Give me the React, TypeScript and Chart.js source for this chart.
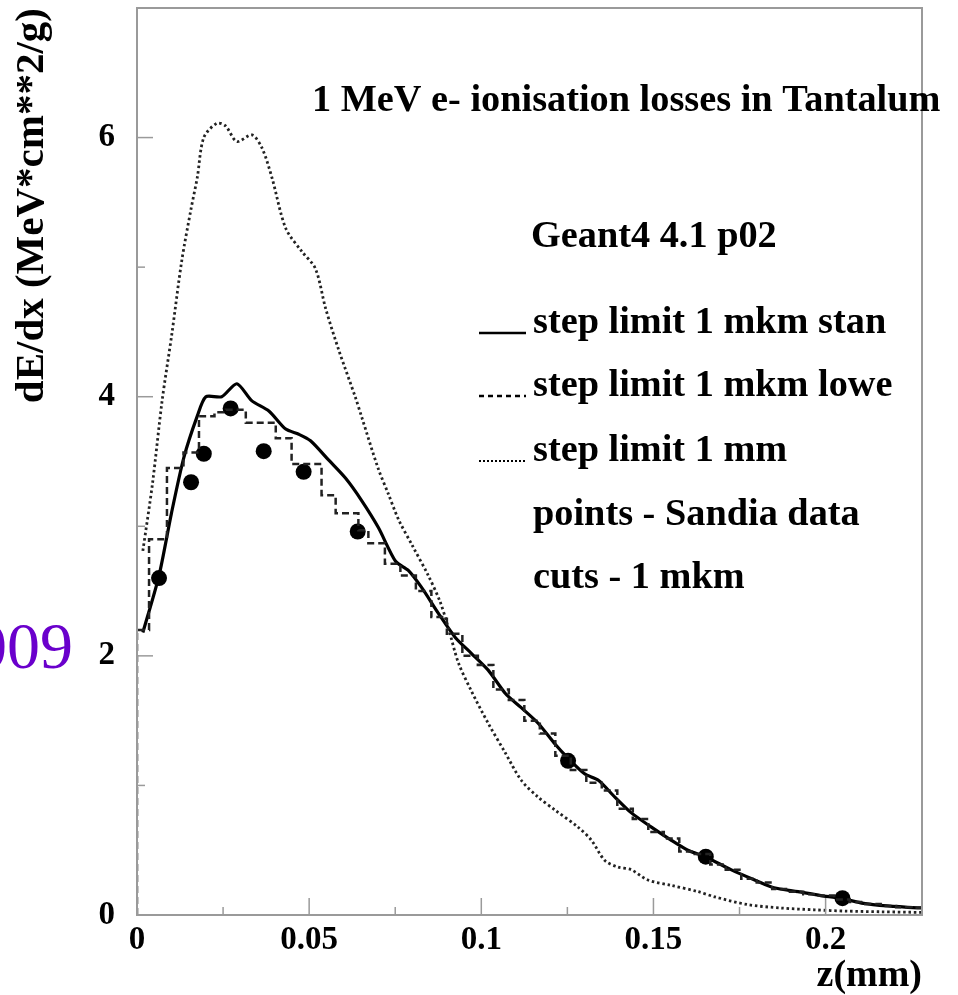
import React, { useEffect, useRef } from 'react';
import { Chart, registerables } from 'chart.js';

Chart.register(...registerables);

// ---- data ----
const stanZ = [0.0017, 0.0064, 0.01, 0.0136, 0.0175, 0.02, 0.0246, 0.029, 0.0333, 0.0383, 0.0432, 0.047, 0.0504, 0.0557, 0.0606, 0.0652, 0.0701, 0.0751, 0.0788, 0.0826, 0.0875, 0.0925, 0.0971, 0.102, 0.107, 0.1116, 0.1165, 0.1214, 0.1252, 0.13, 0.134, 0.1388, 0.1435, 0.1493, 0.155, 0.16, 0.165, 0.1725, 0.1794, 0.185, 0.192, 0.1986, 0.2043, 0.211, 0.218, 0.2267, 0.228];
const stanV = [2.18, 2.62, 3.1, 3.53, 3.85, 4.0, 4.0, 4.1, 3.97, 3.89, 3.75, 3.71, 3.66, 3.51, 3.37, 3.2, 2.99, 2.73, 2.66, 2.53, 2.33, 2.14, 2.02, 1.89, 1.71, 1.6, 1.48, 1.32, 1.21, 1.09, 1.04, 0.91, 0.79, 0.68, 0.58, 0.5, 0.45, 0.35, 0.27, 0.21, 0.18, 0.15, 0.13, 0.09, 0.07, 0.055, 0.055];

const loweZ = [0, 0, 0.0035, 0.0087, 0.0135, 0.018, 0.0225, 0.0258, 0.0316, 0.0403, 0.0449, 0.0536, 0.0577, 0.0643, 0.0672, 0.072, 0.0765, 0.081, 0.0855, 0.09, 0.0945, 0.099, 0.1035, 0.108, 0.1125, 0.117, 0.1215, 0.126, 0.1305, 0.135, 0.1395, 0.144, 0.1485, 0.153, 0.1575, 0.162, 0.1665, 0.171, 0.1755, 0.18, 0.1845, 0.189, 0.1935, 0.198, 0.2025, 0.207, 0.2115, 0.216, 0.2205, 0.225, 0.228];
const loweV = [0, 2.2, 2.9, 3.45, 3.57, 3.85, 3.88, 3.9, 3.8, 3.68, 3.48, 3.24, 3.1, 2.97, 2.87, 2.71, 2.62, 2.5, 2.3, 2.17, 2.0, 1.93, 1.74, 1.66, 1.5, 1.4, 1.23, 1.12, 1.02, 0.96, 0.82, 0.74, 0.64, 0.59, 0.49, 0.47, 0.39, 0.35, 0.28, 0.25, 0.2, 0.18, 0.16, 0.15, 0.12, 0.1, 0.085, 0.07, 0.06, 0.055, 0.055];

const mmZ = [0.0017, 0.0045, 0.0073, 0.0101, 0.013, 0.0157, 0.0175, 0.0194, 0.0232, 0.0257, 0.029, 0.0334, 0.0363, 0.0392, 0.0432, 0.0479, 0.0518, 0.0548, 0.0586, 0.0635, 0.0653, 0.07, 0.073, 0.076, 0.08, 0.0846, 0.088, 0.0904, 0.0933, 0.0971, 0.102, 0.107, 0.1116, 0.1165, 0.1214, 0.128, 0.1319, 0.1359, 0.1397, 0.1435, 0.1484, 0.155, 0.163, 0.1678, 0.1774, 0.187, 0.1968, 0.206, 0.216, 0.228];
const mmV = [2.81, 3.33, 3.97, 4.48, 5.05, 5.45, 5.69, 6.0, 6.11, 6.09, 5.97, 6.02, 5.92, 5.69, 5.3, 5.12, 4.99, 4.68, 4.36, 3.99, 3.84, 3.45, 3.25, 3.05, 2.85, 2.62, 2.42, 2.22, 1.95, 1.73, 1.48, 1.25, 1.04, 0.91, 0.81, 0.68, 0.58, 0.42, 0.37, 0.35, 0.27, 0.23, 0.18, 0.14, 0.08, 0.054, 0.04, 0.03, 0.025, 0.02];

const sandiaZ = [0.0064, 0.0157, 0.0194, 0.0272, 0.0368, 0.0484, 0.0641, 0.1252, 0.1652, 0.2049];
const sandiaV = [2.6, 3.34, 3.56, 3.91, 3.58, 3.42, 2.96, 1.19, 0.45, 0.13];

const xMajorTicks = [0, 0.05, 0.1, 0.15, 0.2];
const xMinorTicks = [0.025, 0.075, 0.125, 0.175];
const yMajorTicks = [0, 2, 4, 6];
const yMinorTicks = [1, 3, 5];

const titleText = '1 MeV e- ionisation losses in Tantalum';
const versionText = 'Geant4 4.1 p02';
const legendTexts = ['step limit 1 mkm stan', 'step limit 1 mkm lowe', 'step limit 1 mm', 'points - Sandia data', 'cuts - 1 mkm'];
const yTitle = 'dE/dx (MeV*cm**2/g)';
const xTitle = 'z(mm)';
const yearText = '2009';

const SERIF = '"Liberation Serif", "Times New Roman", serif';

const toPts = (xs: number[], ys: number[]) => xs.map((x, i) => ({ x, y: ys[i] }));

const decorPlugin = {
  id: 'decor',
  afterDatasetsDraw(chart: any) {
    const { ctx, chartArea: a, scales } = chart;
    const xs = scales.x, ys = scales.y;
    ctx.save();
    ctx.strokeStyle = '#9a9a9a';
    ctx.lineWidth = 2;
    ctx.setLineDash([]);
    ctx.strokeRect(a.left, a.top, a.right - a.left, a.bottom - a.top);
    ctx.lineWidth = 1.5;
    const tick = (vals: number[], len: number, horiz: boolean) => {
      vals.forEach((v) => {
        ctx.beginPath();
        if (horiz) {
          const p = xs.getPixelForValue(v);
          ctx.moveTo(p, a.bottom);
          ctx.lineTo(p, a.bottom - len);
        } else {
          const p = ys.getPixelForValue(v);
          ctx.moveTo(a.left, p);
          ctx.lineTo(a.left + len, p);
        }
        ctx.stroke();
      });
    };
    tick(xMajorTicks, 17, true);
    tick(xMinorTicks, 8, true);
    tick(yMajorTicks, 16, false);
    tick(yMinorTicks, 8, false);
    ctx.restore();
  },
  afterDraw(chart: any) {
    const { ctx } = chart;
    ctx.save();
    ctx.fillStyle = '#000';
    ctx.textBaseline = 'alphabetic';
    ctx.textAlign = 'left';
    ctx.font = `bold 38.3px ${SERIF}`;
    ctx.fillText(titleText, 312, 111);
    ctx.fillText(versionText, 531, 247);
    const rows = [333, 396, 461, 525, 588];
    legendTexts.forEach((t, i) => ctx.fillText(t, 533, rows[i]));
    // legend samples
    ctx.strokeStyle = '#000';
    ctx.lineWidth = 2.5;
    const sample = (y: number, dash: number[]) => {
      ctx.setLineDash(dash);
      ctx.beginPath();
      ctx.moveTo(479, y);
      ctx.lineTo(526, y);
      ctx.stroke();
    };
    sample(rows[0], []);
    sample(rows[1], [5, 4]);
    ctx.lineWidth = 2;
    sample(rows[2], [2, 2]);
    ctx.setLineDash([]);
    // purple year
    ctx.fillStyle = '#6a00cc';
    ctx.font = `66px ${SERIF}`;
    ctx.textAlign = 'right';
    ctx.fillText(yearText, 73, 668);
    ctx.restore();
  },
};

export default function App() {
  const ref = useRef<HTMLCanvasElement | null>(null);
  useEffect(() => {
    if (!ref.current) return;
    const chart = new Chart(ref.current, {
      type: 'line',
      data: {
        datasets: [
          {
            label: 'step limit 1 mm',
            data: toPts(mmZ, mmV),
            borderColor: '#222',
            borderWidth: 2.8,
            borderDash: [2.5, 2.8],
            pointRadius: 0,
            tension: 0.3,
            fill: false,
          },
          {
            label: 'step limit 1 mkm lowe',
            data: toPts(loweZ, loweV),
            borderColor: '#222',
            borderWidth: 2.5,
            borderDash: [7, 4],
            stepped: 'before',
            pointRadius: 0,
            fill: false,
          },
          {
            label: 'step limit 1 mkm stan',
            data: toPts(stanZ, stanV),
            borderColor: '#000',
            borderWidth: 3.2,
            pointRadius: 0,
            tension: 0.25,
            fill: false,
          },
          {
            label: 'points - Sandia data',
            data: toPts(sandiaZ, sandiaV),
            showLine: false,
            pointRadius: 8,
            pointBackgroundColor: '#000',
            pointBorderColor: '#000',
            pointBorderWidth: 0,
          },
        ],
      },
      options: {
        animation: false,
        responsive: false,
        events: [],
        layout: { padding: { left: 0, top: 6, right: 36, bottom: 0 } },
        plugins: { legend: { display: false }, tooltip: { enabled: false } },
        scales: {
          x: {
            type: 'linear',
            min: 0,
            max: 0.228,
            afterFit: (s: any) => {
              s.height = 80;
              s.paddingLeft = 0;
              s.paddingRight = 0;
            },
            grid: { display: false, drawTicks: false },
            border: { display: false },
            ticks: {
              stepSize: 0.05,
              includeBounds: false,
              autoSkip: false,
              maxRotation: 0,
              padding: 6,
              color: '#000',
              font: { family: SERIF, size: 33, weight: 'bold' },
              callback: (v: any) => String(Math.round(Number(v) * 1000) / 1000),
            },
            title: {
              display: true,
              text: xTitle,
              align: 'end',
              color: '#000',
              padding: 0,
              font: { family: SERIF, size: 38, weight: 'bold', lineHeight: 1 },
            },
          },
          y: {
            type: 'linear',
            min: 0,
            max: 7,
            afterFit: (s: any) => {
              s.width = 137;
              s.paddingTop = 0;
              s.paddingBottom = 0;
            },
            grid: { display: false, drawTicks: false },
            border: { display: false },
            ticks: {
              stepSize: 2,
              includeBounds: false,
              padding: 22,
              color: '#000',
              font: { family: SERIF, size: 33, weight: 'bold' },
              callback: (v: any) => String(v),
            },
            title: {
              display: true,
              text: yTitle,
              align: 'end',
              color: '#000',
              padding: { top: 8, bottom: 0 },
              font: { family: SERIF, size: 41, weight: 'bold', lineHeight: 1.2 },
            },
          },
        },
      },
      plugins: [decorPlugin],
    } as any);
    return () => chart.destroy();
  }, []);
  return (
    <div style={{ position: 'absolute', left: 0, top: 0, width: 958, height: 995, background: '#fff' }}>
      <canvas ref={ref} width={958} height={995} style={{ display: 'block' }} />
    </div>
  );
}
